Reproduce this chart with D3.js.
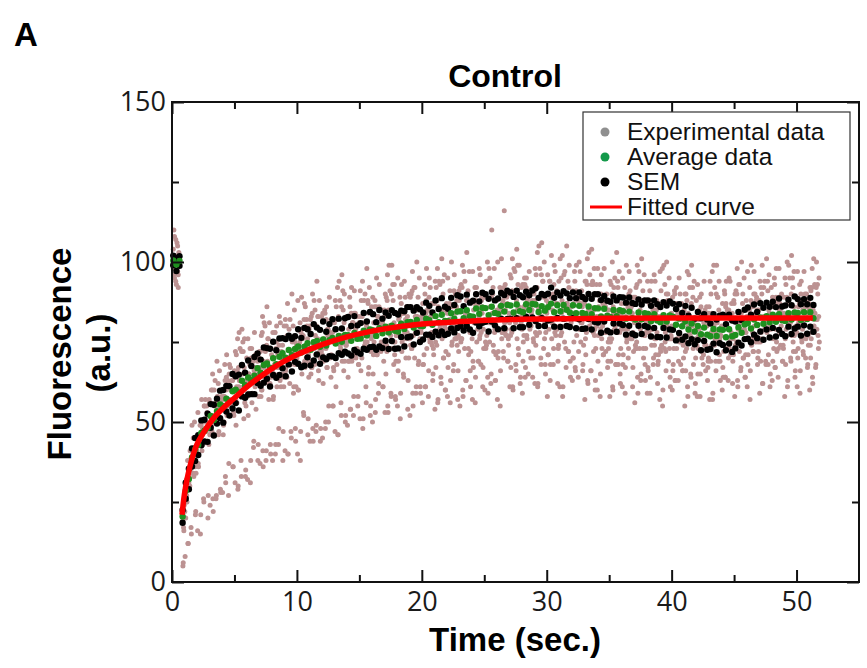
<!DOCTYPE html>
<html><head><meta charset="utf-8">
<script src="https://cdn.jsdelivr.net/npm/d3@7"></script>
<style>body{margin:0;background:#fff}</style>
</head><body>
<svg id="chart" width="867" height="668"></svg>
<script>
// ---------- DATA ----------
// Experimental data: individual recovery traces, one sample per second starting at traceStart[i]
const traceStart = [1.05,1.30,0.90,1.55,1.10,1.75,0.95,1.40,1.20,1.65,0.85,1.50,1.00,1.35,1.70,1.15,1.45,1.80,1.25,1.60,
                    1.275,0.875,1.525,1.125,1.725,0.925,1.425,1.175,1.625,1.025,1.475,1.325,1.775,0.975,1.575,1.225,1.675,1.075,1.375,1.825];
const traces = [
[8,16,24,28,31,32,37,38,41,40,44,45,47,49,51,50,53,55,52,56,54,58,55,57,60,57,61,59,62,58,61,63,57,60,58,61,56,59,57,60,55,58,57,60,58,61,59,63,58,61,60],
[12,21,22,31,30,38,36,43,40,47,44,50,46,54,51,57,53,59,55,61,57,63,58,64,59,66,60,67,62,68,61,66,62,65,60,67,59,64,60,63,58,65,59,64,61,66,62,67,63,66,62],
[6,22,27,28,36,35,43,40,47,44,51,48,55,52,58,55,61,57,63,59,65,60,66,61,67,63,69,64,70,65,69,64,68,63,69,62,67,63,68,61,66,62,67,63,69,64,70,65,69,66,68],
[15,25,27,37,33,44,41,48,45,52,49,55,52,58,56,62,58,64,61,66,62,68,63,69,65,70,66,72,68,73,67,72,66,71,68,73,65,70,66,69,64,71,66,70,67,72,68,73,69,71,68],
[20,37,49,46,57,52,62,57,66,60,69,62,70,64,72,65,73,66,74,68,75,67,76,69,75,70,77,69,78,71,77,70,76,69,75,68,74,67,73,66,72,65,73,67,74,68,75,69,76,70,74],
[33,47,47,56,51,62,57,65,61,70,63,71,66,73,67,75,68,76,69,77,70,76,71,78,72,79,71,80,73,79,72,81,72,78,71,77,70,76,69,75,68,74,69,76,70,77,71,78,72,76,73],
[16,41,43,55,52,63,58,67,61,70,64,72,66,74,68,76,69,77,70,78,71,79,72,78,73,80,74,81,75,82,74,81,74,80,73,79,72,78,71,77,70,76,70,77,71,78,72,79,73,80,74],
[35,41,55,52,63,56,68,61,70,65,73,67,76,69,77,71,79,72,80,73,81,74,82,75,81,76,83,77,84,76,85,77,83,76,82,75,81,74,80,73,79,72,80,73,81,74,82,75,81,76,80],
[25,45,47,58,56,63,60,68,64,72,67,74,68,76,70,78,72,80,73,81,74,82,76,81,77,84,78,85,77,86,78,84,79,83,76,82,75,81,74,80,73,79,74,80,75,82,76,83,77,81,78],
[41,44,57,55,65,61,69,63,72,67,76,70,77,71,79,73,80,74,82,75,81,76,83,77,84,78,85,79,86,78,87,79,85,78,84,77,82,76,81,75,80,74,81,75,82,77,83,78,84,77,82],
[19,36,52,51,63,58,69,62,74,68,76,70,78,72,80,73,81,75,83,76,84,77,85,78,86,79,87,80,88,81,87,80,86,79,85,78,84,77,83,76,82,75,83,76,84,78,85,79,86,79,84],
[34,50,52,62,60,69,64,72,68,77,71,79,73,81,75,83,77,84,78,85,79,86,80,87,81,88,81,89,82,90,82,88,82,87,80,86,79,85,78,84,77,83,78,85,79,86,80,87,81,85,82],
[26,40,56,54,66,61,72,66,76,70,80,73,81,75,83,77,85,78,86,80,87,81,88,82,89,82,90,83,91,84,90,84,89,83,88,82,87,81,86,80,85,79,86,80,87,82,88,82,89,83,87],
[31,50,52,64,61,70,67,75,70,79,74,82,76,84,78,86,80,87,81,88,81,89,82,90,83,91,84,92,85,92,86,91,85,90,84,89,83,88,82,87,80,86,80,87,81,88,83,89,84,90,83],
[45,50,62,60,72,67,76,71,80,74,83,77,85,79,87,81,88,82,89,83,90,84,91,85,92,85,93,86,94,87,94,87,93,86,92,85,91,84,90,83,89,82,89,82,90,84,91,85,92,86,90],
[32,44,60,58,71,65,77,70,80,73,83,76,86,79,88,81,89,82,90,83,92,84,93,85,94,85,95,86,96,87,95,87,94,86,93,85,92,84,91,83,90,82,90,83,91,85,92,86,93,86,91],
[41,48,63,61,73,69,80,72,82,76,85,79,88,81,90,83,91,84,92,85,93,86,94,87,95,87,97,88,98,89,97,89,96,88,95,87,94,86,93,85,92,84,92,85,93,87,94,88,95,88,93],
[50,53,66,63,76,71,81,76,85,80,88,82,90,83,92,85,93,86,95,87,96,88,97,89,98,89,99,90,100,91,99,91,98,90,97,89,96,88,95,87,94,86,94,87,95,89,96,90,97,90,95],
[38,49,65,63,76,73,83,78,87,81,90,84,92,86,94,88,96,89,97,90,98,91,99,92,100,92,101,93,103,94,102,94,101,93,100,92,99,91,98,90,97,89,97,90,98,92,99,93,100,93,98],
[49,55,69,68,79,78,86,83,90,87,94,89,96,91,98,93,99,94,100,95,101,96,103,98,110,116,104,97,106,99,105,100,104,98,103,97,101,96,100,95,99,94,99,95,100,97,101,98,102,97,100],
[12,15,26,33,29,31,41,40,40,38,48,48,46,54,48,53,55,51,59,61,56,56,60,56,64,55,61,64,61,63,58,67,63,58,61,59,64,59,55,63,61,58,57,64,63,57,62,67,61,59,64],
[5,21,20,29,36,33,38,43,38,48,46,44,55,50,55,52,61,58,54,61,63,60,57,66,61,63,69,62,64,68,62,69,66,60,67,65,61,68,62,64,66,59,63,69,62,64,68,61,69,64,67],
[17,26,26,27,38,42,38,43,47,53,47,50,56,52,61,59,59,65,59,58,64,66,63,69,62,72,68,65,70,68,73,64,66,71,68,70,63,68,72,63,65,68,69,63,66,72,69,64,70,72,67],
[25,36,49,49,49,59,58,58,67,60,65,69,61,69,66,71,65,69,74,68,67,71,75,67,73,72,67,75,74,71,77,70,71,77,69,71,73,66,72,68,66,73,69,64,73,71,69,76,68,73,70],
[34,48,46,55,61,54,62,61,59,69,66,64,72,70,65,72,75,70,68,75,70,76,73,68,74,77,73,70,80,77,72,75,78,72,68,76,73,71,76,68,73,66,75,71,70,75,68,74,75,70,77],
[17,34,48,56,53,55,65,64,64,61,71,70,67,74,68,72,73,69,76,79,73,72,77,72,79,71,76,80,76,78,73,82,79,73,75,73,78,73,69,76,74,70,69,77,76,71,75,80,74,72,77],
[30,46,46,56,63,59,64,67,62,72,68,67,77,70,74,71,78,75,70,77,79,75,73,81,75,78,83,76,78,81,75,82,80,73,79,76,73,79,73,76,78,70,74,80,72,76,79,72,80,75,78],
[27,45,47,50,61,65,60,65,69,74,67,70,75,69,77,75,74,80,73,71,78,79,76,81,74,84,79,77,81,79,84,75,78,82,78,79,73,78,81,73,75,77,78,72,74,82,78,73,79,81,76],
[39,44,58,57,58,67,66,67,75,69,74,78,69,77,75,80,73,78,83,76,76,80,84,76,82,81,76,85,83,80,86,79,81,86,78,80,82,74,80,77,75,81,77,73,81,80,78,85,77,82,79],
[22,45,46,57,64,58,67,66,65,74,73,71,79,76,72,79,83,77,76,82,78,84,81,76,82,85,81,79,88,85,80,83,87,80,76,83,81,78,83,76,81,74,83,79,77,83,76,82,83,78,85],
[35,43,56,63,60,63,72,71,70,68,77,77,74,81,75,79,80,76,83,85,80,79,84,79,86,78,83,87,83,85,80,89,86,80,82,79,85,79,75,83,81,77,76,84,82,78,82,87,81,79,84],
[30,49,50,60,67,63,69,73,68,78,75,73,83,77,81,78,85,81,77,84,86,82,80,88,82,85,90,83,86,89,82,89,86,79,86,83,80,87,80,83,84,77,81,86,79,83,86,79,87,82,85],
[42,55,55,56,67,71,67,72,76,82,74,76,81,76,84,82,81,86,80,78,85,86,83,88,81,91,86,84,89,87,92,82,85,88,85,86,80,85,88,80,81,84,85,78,81,88,85,80,86,88,83],
[24,41,57,58,60,70,70,71,80,74,79,83,75,83,81,86,80,84,90,83,83,87,91,83,89,88,84,92,90,88,94,86,88,93,85,87,89,81,87,84,81,88,84,79,88,88,85,92,84,89,86],
[39,55,55,65,72,66,74,74,72,82,80,78,86,84,80,86,90,84,83,89,85,91,88,83,89,92,88,86,96,93,87,90,93,86,83,90,88,85,90,83,87,81,90,85,84,90,83,89,90,85,92],
[32,45,60,68,66,68,78,78,77,75,84,85,82,89,83,86,88,83,91,93,88,87,92,87,94,86,91,95,92,94,88,97,93,88,90,87,93,87,83,91,88,85,84,91,90,85,90,95,89,87,92],
[41,57,58,67,75,71,76,81,76,86,83,81,91,84,88,85,93,89,85,92,94,90,88,96,90,93,99,91,94,97,90,97,94,87,94,91,88,94,88,90,92,85,89,94,87,90,94,87,95,90,93],
[28,53,56,60,72,76,72,78,82,88,82,84,88,83,91,89,90,95,89,87,94,95,92,97,90,100,96,93,98,96,101,91,94,98,94,95,89,94,97,89,90,93,94,87,90,97,94,89,95,97,92],
[38,57,60,71,78,73,81,80,79,89,88,86,94,92,88,95,99,93,92,98,94,100,97,92,98,101,98,95,105,102,96,99,103,96,92,99,97,94,99,92,96,90,99,94,93,99,92,98,99,94,101],
[41,44,57,56,56,67,65,70,75,68,72,76,69,73,79,74,71,78,80,74,80,74,79,84,78,77,82,85,76,79,84,81,77,83,84,76,77,78,73,80,75,80,71,77,79,76,84,78,77,82,75]
];
// Pre-bleach experimental samples
const preTime  = [0.1,0.15,0.2,0.25,0.3,0.35,0.4,0.45,0.5,0.55,0.1,0.15,0.2,0.25,0.3,0.35,0.4,0.45,0.5,0.55];
const preValue = [104,96,108,99,94,101,106,97,92,103,98,110,95,102,107,93,100,105,96,99];

// Average data and SEM, sampled every avgStep seconds from avgStart
const avgStart = 0.1, avgStep = 0.25;
const avgValue = [
100.5,99.2,100.3,
20.5,
28.5,32.2,38.9,41.4, 42.8,46.6,47.3,48.2, 51.9,50.6,53.4,55.5, 54.9,57.3,56.6,59.6, 60.1,59.2,62.9,61.5,
63.9,63.1,64.5,66.8, 65.4,67.8,68.3,67.0, 69.9,68.1,70.4,71.5, 70.1,72.5,70.9,72.8, 73.6,71.7,73.5,74.6,
72.6,74.9,75.3,73.5, 75.8,73.9,75.6,76.3, 74.5,76.9,75.1,77.2, 77.1,75.4,77.8,76.0, 76.1,78.5,77.0,78.9,
78.6,76.9,79.3,77.7, 79.8,78.0,80.1,78.5, 78.3,80.7,79.1,81.2, 81.3,79.5,81.9,80.1, 80.0,82.3,81.8,80.4,
83.1,81.2,83.5,81.6, 81.5,84.0,82.3,84.5, 84.6,82.4,84.9,83.1, 82.9,85.5,83.8,85.7, 85.6,83.4,86.0,84.1,
83.8,86.3,84.5,86.6, 86.4,84.2,86.7,84.6, 84.3,86.8,85.0,86.9, 86.7,84.4,86.2,84.8, 85.9,87.0,84.3,86.5,
84.6,86.6,85.1,84.2, 86.5,84.0,86.3,84.1, 83.8,86.1,83.7,85.6, 85.5,83.0,85.4,83.2, 82.8,85.0,83.1,84.9,
84.6,82.3,84.5,82.4, 82.0,84.2,82.1,84.0, 83.8,81.5,83.7,81.7, 81.2,83.4,81.4,83.3, 82.9,80.4,82.3,79.9,
81.5,78.9,80.8,78.3, 80.0,77.4,79.5,77.3, 76.8,79.1,76.9,78.9, 78.8,76.5,79.0,76.8, 77.2,79.6,77.9,80.5,
80.9,79.2,82.0,80.3, 82.7,80.7,83.1,81.2, 83.5,81.3,83.7,81.8, 81.6,84.0,82.0,84.2, 84.1,81.9,84.3,82.2,
84.3,82.4
];
const semValue = [
1.5,2,1.5,
2,
2.5,3.2,2.8,3.6, 3.1,3.9,3.4,4.4, 3.7,4.8,3.9,4.3, 5.1,4.0,4.6,5.4, 4.2,5.6,4.9,3.9,
5.3,4.4,5.8,4.6, 4.1,5.5,4.8,5.9, 5.2,4.3,5.7,4.7, 5.8,4.5,5.1,4.0, 5.4,4.6,5.9,4.4,
4.9,5.7,4.2,5.3, 5.6,4.3,5.0,5.8, 4.5,5.4,4.1,5.2, 5.7,4.6,5.3,4.2, 4.8,5.6,4.4,5.5,
5.1,4.3,5.7,4.6, 4.4,5.2,4.8,5.6, 5.3,4.1,5.5,4.7, 4.6,5.3,4.0,5.1, 4.2,5.0,4.5,3.8,
4.9,4.1,5.2,4.4, 3.9,4.8,4.3,5.1, 4.6,3.8,4.9,4.2, 5.0,4.4,3.9,4.7, 4.3,5.1,4.6,3.9,
4.8,4.0,5.2,4.4, 4.1,4.9,4.3,5.0, 4.7,3.9,4.6,4.2, 5.1,4.4,3.8,4.8, 4.2,5.0,4.5,4.0,
4.9,4.3,5.1,4.5, 4.0,4.7,4.2,5.0, 4.6,3.9,4.8,4.3, 4.4,5.1,4.0,4.7, 4.8,4.2,4.9,4.1,
4.3,5.0,4.4,4.8, 4.9,4.1,4.6,4.0, 4.2,4.8,4.3,5.1, 4.7,4.0,5.0,4.4, 4.1,4.9,4.5,4.2,
4.8,4.3,4.9,4.0, 4.4,5.0,4.2,4.7, 4.0,4.6,5.1,4.3, 4.7,4.1,4.5,4.9, 4.2,4.8,4.0,4.6,
4.9,4.3,4.7,4.1, 4.4,5.0,4.2,4.8, 4.1,4.6,4.9,4.3, 4.8,4.2,4.5,5.0, 4.3,4.9,4.1,4.6,
4.5,4.2
];
// Fitted curve
const fitTime  = [0.8,0.9,1,1.2,1.4,1.6,1.8,2,2.5,3,3.5,4,5,6,7,8,9,10,12,14,16,18,20,23,26,30,35,40,45,51.3];
const fitValue = [21,24.5,27.5,32,35.5,38.5,41,43,46.5,49.5,52,54,57.5,61,64,66.7,69,71,74.2,76.6,78.4,79.7,80.6,81.4,81.9,82.2,82.4,82.5,82.5,82.5];

// Axis ticks and labels
const xMajor = [0,10,20,30,40,50], xMinor = [5,15,25,35,45];
const yMajor = [0,50,100,150], yMinor = [25,75,125];
const legendLabels = ["Experimental data","Average data","SEM","Fitted curve"];

// ---------- sanity checks ----------
traces.forEach((t,i)=>{ if(t.length!==51) throw new Error("trace "+i+" has "+t.length); });
if (traces.length!==traceStart.length) throw new Error("traceStart length "+traces.length+" vs "+traceStart.length);
if (avgValue.length!==semValue.length) throw new Error("avg "+avgValue.length+" sem "+semValue.length);
if (preTime.length!==preValue.length) throw new Error("pre");
if (fitTime.length!==fitValue.length) throw new Error("fit");

// ---------- CHART ----------
const svg = d3.select("#chart");
const x = d3.scaleLinear().domain([0,55]).range([172,859]);
const y = d3.scaleLinear().domain([0,150]).range([582,102]);

const expPts = [];
preTime.forEach((t,i)=>expPts.push([t,preValue[i]]));
traces.forEach((tr,i)=>tr.forEach((v,k)=>expPts.push([traceStart[i]+k, v])));

const avgPts = avgValue.map((v,i)=>({t: avgStart + avgStep*i, v, s: semValue[i]}));

const plot = svg.append("g");
plot.append("g").selectAll("circle").data(expPts).join("circle")
  .attr("cx",d=>x(d[0])).attr("cy",d=>y(d[1])).attr("r",2.5).attr("fill","#bc9292");

const semPts = [];
avgPts.forEach(d=>{ semPts.push([d.t,d.v+d.s]); semPts.push([d.t,d.v-d.s]); });
plot.append("g").selectAll("circle").data(semPts).join("circle")
  .attr("cx",d=>x(d[0])).attr("cy",d=>y(d[1])).attr("r",3.2).attr("fill","#000");

plot.append("g").selectAll("circle").data(avgPts).join("circle")
  .attr("cx",d=>x(d.t)).attr("cy",d=>y(d.v)).attr("r",3.2).attr("fill","#1f8f1f");

const line = d3.line().x((d,i)=>x(fitTime[i])).y(d=>y(d)).curve(d3.curveMonotoneX);
plot.append("path").datum(fitValue).attr("d",line)
  .attr("fill","none").attr("stroke","#ff0000").attr("stroke-width",5.5).attr("stroke-linecap","butt");

// Axes (inward ticks, mirrored)
function styleAxis(g){
  g.select(".domain").remove();
  g.selectAll(".tick line").attr("stroke","#111").attr("stroke-width",2);
  g.selectAll("text").attr("font-family","'Open Sans', sans-serif").attr("font-size",27).attr("fill","#1a1a1a");
}
svg.append("g").attr("transform","translate(0,582)")
  .call(d3.axisBottom(x).tickValues(xMajor).tickSizeInner(-12).tickSizeOuter(0).tickPadding(10).tickFormat(d3.format("d"))).call(styleAxis);
svg.append("g").attr("transform","translate(0,582)")
  .call(d3.axisBottom(x).tickValues(xMinor).tickSizeInner(-7).tickSizeOuter(0).tickFormat("")).call(styleAxis);
svg.append("g").attr("transform","translate(0,102)")
  .call(d3.axisTop(x).tickValues(xMajor).tickSizeInner(-12).tickSizeOuter(0).tickFormat("")).call(styleAxis);
svg.append("g").attr("transform","translate(0,102)")
  .call(d3.axisTop(x).tickValues(xMinor).tickSizeInner(-7).tickSizeOuter(0).tickFormat("")).call(styleAxis);
svg.append("g").attr("transform","translate(172,0)")
  .call(d3.axisLeft(y).tickValues(yMajor).tickSizeInner(-12).tickSizeOuter(0).tickPadding(6).tickFormat(d3.format("d"))).call(styleAxis);
svg.append("g").attr("transform","translate(172,0)")
  .call(d3.axisLeft(y).tickValues(yMinor).tickSizeInner(-7).tickSizeOuter(0).tickFormat("")).call(styleAxis);
svg.append("g").attr("transform","translate(859,0)")
  .call(d3.axisRight(y).tickValues(yMajor).tickSizeInner(-12).tickSizeOuter(0).tickFormat("")).call(styleAxis);
svg.append("g").attr("transform","translate(859,0)")
  .call(d3.axisRight(y).tickValues(yMinor).tickSizeInner(-7).tickSizeOuter(0).tickFormat("")).call(styleAxis);

// Frame
svg.append("rect").attr("x",x(0)).attr("y",y(150)).attr("width",x(55)-x(0)).attr("height",y(0)-y(150))
  .attr("fill","none").attr("stroke","#111").attr("stroke-width",2);

// Legend
const lg = svg.append("g");
lg.append("rect").attr("x",583).attr("y",112).attr("width",267).attr("height",108)
  .attr("fill","#fff").attr("stroke","#333").attr("stroke-width",1.2);
const rowY = [132,157,182,207];
const mk = [["circle","#8f8f8f"],["circle","#13994a"],["circle","#000"],["line","#ff0000"]];
legendLabels.forEach((lab,i)=>{
  if (mk[i][0]==="circle") lg.append("circle").attr("cx",605).attr("cy",rowY[i]).attr("r",4.5).attr("fill",mk[i][1]);
  else lg.append("line").attr("x1",590).attr("x2",622).attr("y1",rowY[i]).attr("y2",rowY[i]).attr("stroke",mk[i][1]).attr("stroke-width",3);
  lg.append("text").attr("x",627).attr("y",rowY[i]+8).text(lab)
    .attr("font-family","'Liberation Sans', Arial, sans-serif").attr("font-size",24.5).attr("fill","#111");
});

// Titles
const bold = "'Liberation Sans', Arial, sans-serif";
svg.append("text").attr("x",14).attr("y",46).text("A").attr("font-family",bold).attr("font-weight","bold").attr("font-size",33);
svg.append("text").attr("x",505).attr("y",87).attr("text-anchor","middle").text("Control")
  .attr("font-family",bold).attr("font-weight","bold").attr("font-size",32);
svg.append("text").attr("x",515).attr("y",651).attr("text-anchor","middle").text("Time (sec.)")
  .attr("font-family",bold).attr("font-weight","bold").attr("font-size",33);
svg.append("text").attr("transform","translate(71,354) rotate(-90)").attr("text-anchor","middle").text("Fluorescence")
  .attr("font-family",bold).attr("font-weight","bold").attr("font-size",33);
svg.append("text").attr("transform","translate(110,353) rotate(-90)").attr("text-anchor","middle").text("(a.u.)")
  .attr("font-family",bold).attr("font-weight","bold").attr("font-size",33);
</script>
</body></html>
